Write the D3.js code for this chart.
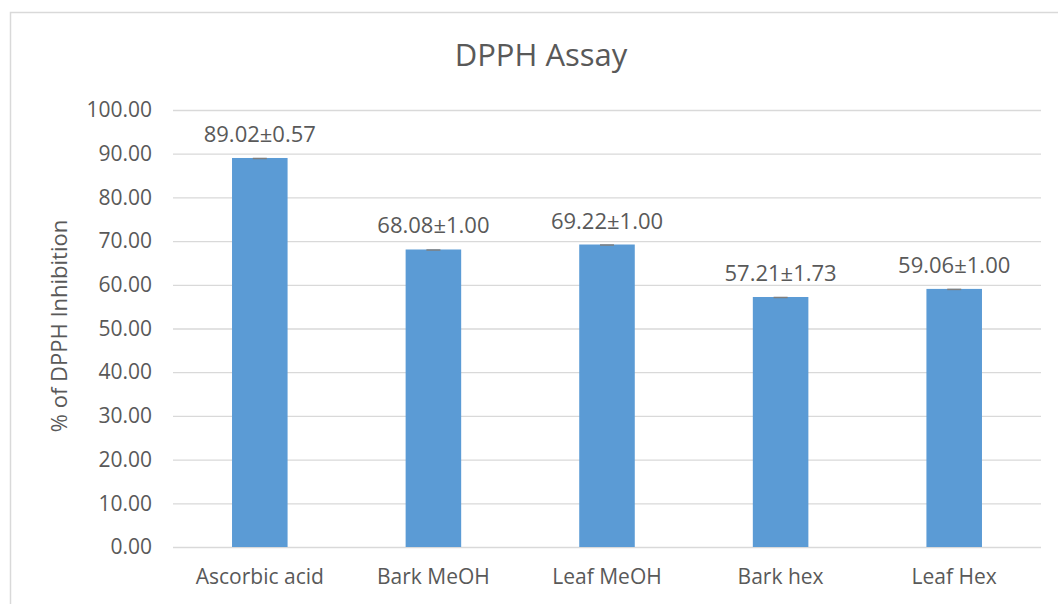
<!DOCTYPE html>
<html>
<head>
<meta charset="utf-8">
<script src="https://cdn.jsdelivr.net/npm/d3@7"></script>
<style>
  body { margin: 0; background: #fff; }
  text { font-family: "Open Sans", "Noto Sans", sans-serif; fill: #595959; }
</style>
</head>
<body>
<div id="chart"></div>
<script>
// values
const categories = ["Ascorbic acid", "Bark MeOH", "Leaf MeOH", "Bark hex", "Leaf Hex"];
const inhibition = [89.02, 68.08, 69.22, 57.21, 59.06];
const barLabels = ["89.02±0.57", "68.08±1.00", "69.22±1.00", "57.21±1.73", "59.06±1.00"];
const yTicks = [0, 10, 20, 30, 40, 50, 60, 70, 80, 90, 100];

let W = 1058, H = 604;
let margin = {top: 110, right: 17, bottom: 57, left: 173},
    width = W - margin.left - margin.right,
    height = H - margin.top - margin.bottom;

let root = d3.select("#chart")
    .append("svg")
    .attr("width", W)
    .attr("height", H);

// chart frame (right/bottom edges fall outside the picture)
root.append("rect")
    .attr("x", 10.5).attr("y", 12.5)
    .attr("width", W + 20).attr("height", H + 20)
    .attr("fill", "none")
    .attr("stroke", "#d9d9d9")
    .attr("stroke-width", 1.5);

root.append("text")
    .attr("x", 541).attr("y", 66)
    .attr("text-anchor", "middle")
    .style("font-size", "31px")
    .text("DPPH Assay");

root.append("text")
    .attr("transform", "translate(67," + 326 + ") rotate(-90)")
    .attr("text-anchor", "middle")
    .style("font-size", "22px")
    .text("% of DPPH Inhibition");

let svg = root.append("g")
    .attr("transform", "translate(" + margin.left + "," + margin.top + ")");

let x = d3.scaleBand()
    .domain(categories)
    .range([0, width])
    .paddingInner(0.68)
    .paddingOuter(0.34);

let y = d3.scaleLinear()
    .domain([0, 100])
    .range([height, 0]);

// gridlines + y labels
let yAxis = svg.append("g")
    .call(d3.axisLeft(y).tickValues(yTicks).tickSize(-width).tickPadding(21)
        .tickFormat(d3.format(".2f")));
yAxis.select(".domain").remove();
yAxis.selectAll("line").attr("stroke", "#d9d9d9").attr("stroke-width", 1.3);
yAxis.selectAll("text").style("font-size", "21px").attr("fill", "#595959");

// category labels
let xAxis = svg.append("g")
    .attr("transform", "translate(0," + height + ")")
    .call(d3.axisBottom(x).tickSize(0).tickPadding(22));
xAxis.select(".domain").remove();
xAxis.selectAll("text").style("font-size", "21px").attr("fill", "#595959");

let data = categories.map((c, i) => ({cat: c, val: inhibition[i], label: barLabels[i]}));

svg.append("g")
    .selectAll("rect")
    .data(data)
    .enter()
    .append("rect")
    .attr("x", d => x(d.cat))
    .attr("y", d => y(d.val))
    .attr("width", x.bandwidth())
    .attr("height", d => height - y(d.val))
    .attr("fill", "#5b9bd5");

// error caps (error extent is too small to see, only the cap shows)
svg.append("g")
    .selectAll("line")
    .data(data)
    .enter()
    .append("line")
    .attr("x1", d => x(d.cat) + x.bandwidth() / 2 - 7)
    .attr("x2", d => x(d.cat) + x.bandwidth() / 2 + 7)
    .attr("y1", d => y(d.val) + 0.5)
    .attr("y2", d => y(d.val) + 0.5)
    .attr("stroke", "#7f7f7f")
    .attr("stroke-width", 1.5);

svg.append("g")
    .selectAll("text")
    .data(data)
    .enter()
    .append("text")
    .attr("x", d => x(d.cat) + x.bandwidth() / 2)
    .attr("y", d => y(d.val) - 16)
    .attr("text-anchor", "middle")
    .style("font-size", "22px")
    .text(d => d.label);
</script>
</body>
</html>
